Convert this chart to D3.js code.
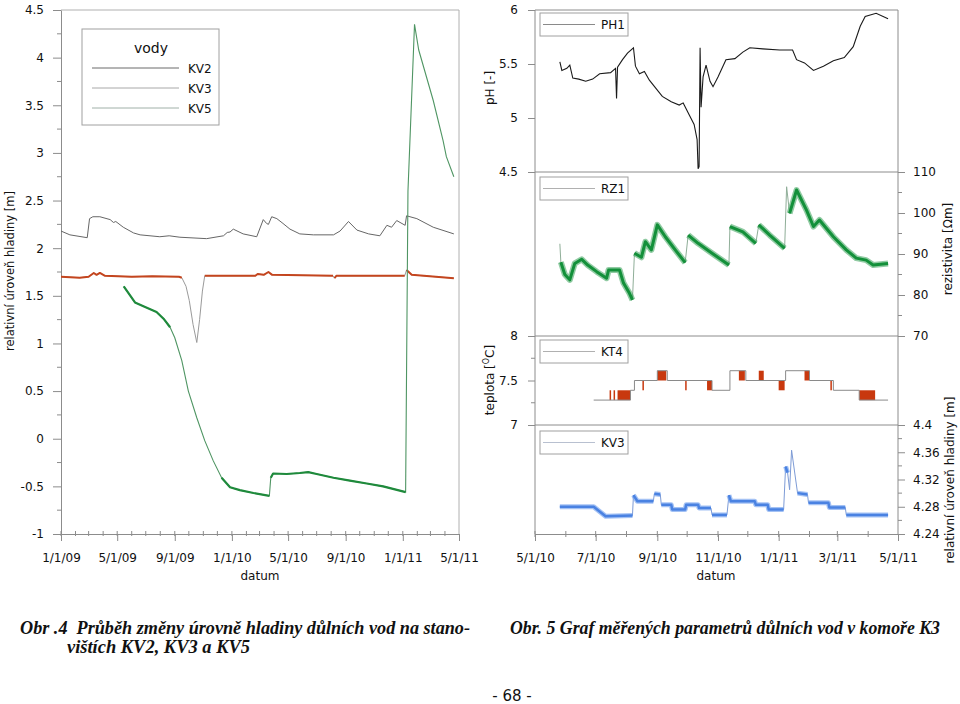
<!DOCTYPE html>
<html><head><meta charset="utf-8">
<script src="https://cdn.jsdelivr.net/npm/d3@7"></script>
<style>
body{margin:0;background:#fff;}
svg{display:block;}
text{font-family:"DejaVu Sans",Verdana,sans-serif;fill:#111;}
.cap{font-family:"Liberation Serif","Times New Roman",serif;font-weight:bold;font-style:italic;white-space:pre;}
</style></head><body>
<svg id="c" width="960" height="704"></svg>
<script>
// ---------------- DATA ----------------
// Left chart (Obr. 4)
const leftSeriesNames = ["KV2","KV3","KV5"];
const leftYTicks = [-1,-0.5,0,0.5,1,1.5,2,2.5,3,3.5,4,4.5];
const leftYLabels = ["-1","-0.5","0","0.5","1","1.5","2","2.5","3","3.5","4","4.5"];
const leftXTicks = ["2009-01-01","2009-05-01","2009-09-01","2010-01-01","2010-05-01","2010-09-01","2011-01-01","2011-05-01"];
const leftXLabels = ["1/1/09","5/1/09","9/1/09","1/1/10","5/1/10","9/1/10","1/1/11","5/1/11"];

const kv2 = [["2009-01-01",2.18],["2009-01-20",2.14],["2009-02-26",2.11],["2009-03-03",2.31],["2009-03-10",2.33],["2009-03-25",2.33],["2009-04-16",2.30],["2009-04-23",2.27],["2009-04-28",2.28],["2009-05-14",2.22],["2009-06-05",2.16],["2009-06-19",2.14],["2009-07-31",2.12],["2009-08-20",2.13],["2009-09-12",2.115],["2009-11-08",2.10],["2009-12-14",2.13],["2009-12-22",2.165],["2009-12-28",2.17],["2010-01-04",2.20],["2010-01-25",2.15],["2010-02-23",2.12],["2010-03-09",2.30],["2010-03-16",2.26],["2010-03-20",2.25],["2010-03-27",2.33],["2010-04-07",2.31],["2010-04-20",2.26],["2010-05-05",2.20],["2010-05-26",2.15],["2010-06-24",2.14],["2010-08-06",2.14],["2010-08-20",2.18],["2010-09-07",2.28],["2010-09-25",2.19],["2010-10-20",2.15],["2010-11-13",2.13],["2010-11-28",2.24],["2010-12-08",2.22],["2010-12-19",2.29],["2011-01-06",2.24],["2011-01-09",2.34],["2011-01-31",2.31],["2011-03-07",2.22],["2011-04-20",2.15]];

const kv3 = [["2009-01-01",1.70],["2009-02-10",1.69],["2009-03-01",1.70],["2009-03-12",1.74],["2009-03-18",1.72],["2009-03-25",1.74],["2009-04-05",1.71],["2009-06-01",1.70],["2009-07-15",1.705],["2009-09-10",1.70],["2009-09-16",1.69],["2009-09-25",1.60],["2009-10-02",1.45],["2009-10-10",1.20],["2009-10-18",1.01],["2009-10-24",1.25],["2009-10-30",1.55],["2009-11-04",1.71],["2010-01-01",1.71],["2010-02-20",1.71],["2010-02-25",1.73],["2010-03-10",1.72],["2010-03-20",1.75],["2010-03-28",1.72],["2010-08-05",1.71],["2010-08-08",1.685],["2010-08-12",1.71],["2011-01-05",1.71],["2011-01-09",1.77],["2011-01-20",1.72],["2011-04-20",1.685]];

const kv5 = [["2009-05-15",1.60],["2009-06-08",1.43],["2009-06-26",1.39],["2009-07-24",1.33],["2009-08-08",1.26],["2009-08-22",1.17],["2009-09-01",1.06],["2009-09-16",0.82],["2009-09-30",0.50],["2009-10-18",0.22],["2009-11-04",-0.02],["2009-11-22",-0.23],["2009-12-10",-0.41],["2009-12-28",-0.51],["2010-01-18",-0.54],["2010-02-16",-0.57],["2010-03-22",-0.60],["2010-03-25",-0.41],["2010-03-30",-0.365],["2010-04-28",-0.37],["2010-05-26",-0.36],["2010-06-13",-0.35],["2010-07-01",-0.37],["2010-08-06",-0.41],["2010-09-10",-0.44],["2010-10-16",-0.47],["2010-11-20",-0.50],["2011-01-07",-0.56],["2011-01-12",2.6],["2011-01-14",2.85],["2011-01-26",4.35],["2011-02-04",4.08],["2011-03-07",3.55],["2011-03-28",3.13],["2011-04-04",2.96],["2011-04-20",2.75]];

// Right chart (Obr. 5)
const rightXTicks = ["2010-05-01","2010-07-01","2010-09-01","2010-11-01","2011-01-01","2011-03-01","2011-05-01"];
const rightXLabels = ["5/1/10","7/1/10","9/1/10","11/1/10","1/1/11","3/1/11","5/1/11"];
const phTicks = [4.5,5,5.5,6];
const phLabels = ["4.5","5","5.5","6"];
const rzTicks = [70,80,90,100,110];
const rzLabels = ["70","80","90","100","110"];
const ktTicks = [7,7.5,8];
const ktLabels = ["7","7.5","8"];
const kvTicks = [4.24,4.28,4.32,4.36,4.4];
const kvLabels = ["4.24","4.28","4.32","4.36","4.4"];

const ph1 = [["2010-05-26",5.52],["2010-05-28",5.44],["2010-06-02",5.46],["2010-06-05",5.49],["2010-06-08",5.37],["2010-06-14",5.36],["2010-06-21",5.34],["2010-06-28",5.36],["2010-07-05",5.41],["2010-07-16",5.42],["2010-07-21",5.46],["2010-07-22",5.18],["2010-07-23",5.47],["2010-07-28",5.54],["2010-08-02",5.60],["2010-08-08",5.65],["2010-08-10",5.48],["2010-08-14",5.41],["2010-08-19",5.43],["2010-08-24",5.35],["2010-08-31",5.27],["2010-09-06",5.20],["2010-09-15",5.15],["2010-09-23",5.12],["2010-09-27",5.14],["2010-10-03",5.03],["2010-10-08",4.94],["2010-10-11",4.80],["2010-10-12",4.53],["2010-10-13",4.55],["2010-10-14",5.65],["2010-10-15",5.10],["2010-10-17",5.38],["2010-10-20",5.49],["2010-10-24",5.34],["2010-10-27",5.29],["2010-11-01",5.38],["2010-11-09",5.54],["2010-11-18",5.55],["2010-11-26",5.61],["2010-12-03",5.65],["2010-12-16",5.64],["2011-01-02",5.63],["2011-01-15",5.63],["2011-01-19",5.54],["2011-01-27",5.51],["2011-02-05",5.44],["2011-02-15",5.48],["2011-02-25",5.53],["2011-03-08",5.56],["2011-03-17",5.66],["2011-03-24",5.85],["2011-03-29",5.94],["2011-04-09",5.97],["2011-04-21",5.92]];

const rz1 = [["2010-05-26",92.5],["2010-05-27",88.0],["2010-05-31",85.0],["2010-06-05",83.7],["2010-06-10",87.7],["2010-06-17",88.7],["2010-06-23",87.3],["2010-07-02",85.7],["2010-07-12",84.1],["2010-07-14",86.1],["2010-07-25",86.1],["2010-07-29",82.9],["2010-08-04",80.4],["2010-08-07",78.8],["2010-08-09",90.2],["2010-08-16",89.2],["2010-08-20",93.0],["2010-08-26",91.0],["2010-09-01",97.1],["2010-09-09",94.2],["2010-09-19",91.0],["2010-09-29",87.9],["2010-10-02",94.6],["2010-10-12",92.6],["2010-10-26",90.2],["2010-11-12",87.3],["2010-11-13",96.7],["2010-11-26",95.4],["2010-12-09",92.6],["2010-12-12",97.1],["2010-12-23",94.6],["2011-01-07",91.4],["2011-01-09",106.4],["2011-01-12",99.9],["2011-01-19",105.6],["2011-01-29",100.7],["2011-02-05",96.7],["2011-02-11",98.3],["2011-02-25",94.2],["2011-03-10",91.0],["2011-03-20",89.0],["2011-03-30",88.5],["2011-04-06",87.3],["2011-04-21",87.7]];

const kt4 = [["2010-06-29",7.28],["2010-08-05",7.39],["2010-08-09",7.5],["2010-09-01",7.61],["2010-09-11",7.5],["2010-10-26",7.39],["2010-11-13",7.61],["2010-11-29",7.5],["2011-01-08",7.61],["2011-02-01",7.5],["2011-02-25",7.39],["2011-03-23",7.28],["2011-04-21",7.28]];
// dense toggling between two levels: [start, end, low, high]
const kt4Bands = [["2010-07-15","2010-07-16",7.28,7.39],["2010-07-19","2010-07-20",7.28,7.39],["2010-07-23","2010-08-05",7.28,7.39],["2010-08-17","2010-08-18",7.39,7.5],["2010-09-01","2010-09-10",7.5,7.61],["2010-09-29","2010-09-30",7.39,7.5],["2010-10-21","2010-10-26",7.39,7.5],["2010-11-22","2010-11-28",7.5,7.61],["2010-12-12","2010-12-17",7.5,7.61],["2011-01-01","2011-01-07",7.39,7.5],["2011-01-27","2011-02-01",7.5,7.61],["2011-02-22","2011-02-23",7.39,7.5],["2011-03-23","2011-04-08",7.28,7.39]];

const kv3r = [["2010-05-26",4.280],["2010-06-29",4.280],["2010-07-11",4.266],["2010-08-07",4.267],["2010-08-08",4.297],["2010-08-12",4.288],["2010-08-28",4.288],["2010-08-29",4.299],["2010-09-04",4.298],["2010-09-05",4.283],["2010-09-15",4.283],["2010-09-16",4.276],["2010-09-29",4.276],["2010-09-30",4.283],["2010-10-12",4.283],["2010-10-13",4.278],["2010-10-25",4.278],["2010-10-26",4.268],["2010-11-10",4.268],["2010-11-12",4.297],["2010-11-14",4.288],["2010-12-08",4.288],["2010-12-09",4.283],["2010-12-21",4.283],["2010-12-22",4.276],["2011-01-06",4.276],["2011-01-08",4.339],["2011-01-10",4.330],["2011-01-12",4.305],["2011-01-14",4.363],["2011-01-20",4.300],["2011-01-30",4.298],["2011-01-31",4.286],["2011-02-20",4.286],["2011-02-21",4.279],["2011-03-09",4.279],["2011-03-10",4.268],["2011-04-21",4.268]];

// ---------------- DRAWING ----------------
const P = d3.timeParse("%Y-%m-%d");
const svg = d3.select("#c");
const AX = "#8c8c8c";

function series(g, data, x, y, o) {
  const pts = data.map(d => [x(P(d[0])), y(d[1])]);
  const runs = []; let cur = null;
  for (let i = 1; i < pts.length; i++) {
    const dx = Math.abs(pts[i][0] - pts[i-1][0]), dy = Math.abs(pts[i][1] - pts[i-1][1]);
    if (dy <= o.maxSlope * Math.max(dx, 0.5)) {
      if (!cur) { cur = [pts[i-1]]; runs.push(cur); }
      cur.push(pts[i]);
    } else cur = null;
  }
  g.append("path").attr("d", d3.line()(pts)).attr("fill","none")
    .attr("stroke", o.thin).attr("stroke-width", o.thinW || 1);
  if (o.halo) runs.forEach(r => g.append("path").attr("d", d3.line()(r)).attr("fill","none")
    .attr("stroke", o.halo).attr("stroke-width", o.haloW).attr("stroke-opacity", o.haloOp || 1)
    .attr("stroke-linejoin","round"));
  if (o.color) runs.forEach(r => g.append("path").attr("d", d3.line()(r)).attr("fill","none")
    .attr("stroke", o.color).attr("stroke-width", o.width).attr("stroke-linejoin","round"));
}
function styleAxis(sel) {
  sel.selectAll(".domain").attr("stroke", AX);
  sel.selectAll(".tick line").attr("stroke", AX);
  sel.selectAll("text").attr("font-size", 12).attr("fill", "#111")
     .attr("font-family","DejaVu Sans, Verdana, sans-serif");
}
function minorY(g, scale, vals, x0, len) {
  vals.forEach(v => g.append("line").attr("x1", x0).attr("x2", x0 + len)
    .attr("y1", scale(v)).attr("y2", scale(v)).attr("stroke", AX));
}

// ===== Left chart =====
const xL = d3.scaleTime().domain([P("2009-01-01"), P("2011-05-01")]).range([61, 459]);
const yL = d3.scaleLinear().domain([-1, 4.5]).range([534, 10]);
const gL = svg.append("g");
gL.append("line").attr("x1",61).attr("x2",459).attr("y1",10).attr("y2",10).attr("stroke","#b0b0b0");
gL.append("line").attr("x1",459).attr("x2",459).attr("y1",10).attr("y2",534).attr("stroke","#b0b0b0");
const axLy = gL.append("g").attr("transform","translate(61,0)")
  .call(d3.axisLeft(yL).tickValues(leftYTicks).tickFormat((d,i)=>leftYLabels[i]).tickSize(8).tickPadding(9).tickSizeOuter(0));
styleAxis(axLy);
minorY(gL, yL, d3.range(-0.75, 4.5, 0.5), 57, 4);
const axLx = gL.append("g").attr("transform","translate(0,534)")
  .call(d3.axisBottom(xL).tickValues(leftXTicks.map(P)).tickFormat((d,i)=>leftXLabels[i]).tickSize(7).tickPadding(12).tickSizeOuter(0));
styleAxis(axLx);
d3.timeMonth.range(P("2009-01-01"), P("2011-05-01")).forEach(d => {
  gL.append("line").attr("x1", xL(d)).attr("x2", xL(d)).attr("y1", 531).attr("y2", 536).attr("stroke", AX);
});
gL.append("text").attr("x",260).attr("y",580).attr("text-anchor","middle").attr("font-size",12).text("datum");
gL.append("text").attr("transform","translate(14,271) rotate(-90)").attr("text-anchor","middle").attr("font-size",11.5).text("relativní úroveň hladiny [m]");

series(gL, kv2, xL, yL, {thin:"#666", thinW:1});
series(gL, kv3, xL, yL, {thin:"#9a9a9a", thinW:1, color:"#c4451e", width:2, maxSlope:1.5});
series(gL, kv5, xL, yL, {thin:"#4f9563", thinW:1.1, color:"#1f8a3c", width:2.2, maxSlope:2});

// legend
gL.append("rect").attr("x",82).attr("y",29).attr("width",137).attr("height",96).attr("fill","#fff").attr("stroke","#a0a0a0");
gL.append("text").attr("x",151).attr("y",53).attr("text-anchor","middle").attr("font-size",14).text("vody");
const legCols = ["#6a6a6a","#a8a8a8","#a0b0a8"];
leftSeriesNames.forEach((n,i) => {
  const yy = 68 + i*20;
  gL.append("line").attr("x1",92).attr("x2",179).attr("y1",yy).attr("y2",yy).attr("stroke",legCols[i]);
  gL.append("text").attr("x",188).attr("y",yy+4.5).attr("font-size",12).text(n);
});

// ===== Right chart =====
const xR = d3.scaleTime().domain([P("2010-05-01"), P("2011-05-01")]).range([535, 898]);
const yPH = d3.scaleLinear().domain([4.5, 6]).range([172, 10]);
const yRZ = d3.scaleLinear().domain([70, 110]).range([336, 172]);
const yKT = d3.scaleLinear().domain([7, 8]).range([425, 336]);
const yKV = d3.scaleLinear().domain([4.24, 4.4]).range([534, 425]);
const gR = svg.append("g");
[10,172,336,425].forEach(yy => gR.append("line").attr("x1",535).attr("x2",898).attr("y1",yy).attr("y2",yy).attr("stroke",AX));
gR.append("line").attr("x1",535).attr("x2",535).attr("y1",10).attr("y2",534).attr("stroke",AX);
gR.append("line").attr("x1",898).attr("x2",898).attr("y1",10).attr("y2",534).attr("stroke",AX);

function leftAx(scale, vals, labs) {
  const a = gR.append("g").attr("transform","translate(535,0)")
    .call(d3.axisLeft(scale).tickValues(vals).tickFormat((d,i)=>labs[i]).tickSize(7).tickPadding(10).tickSizeOuter(0));
  a.select(".domain").remove(); styleAxis(a);
}
function rightAx(scale, vals, labs) {
  const a = gR.append("g").attr("transform","translate(898,0)")
    .call(d3.axisRight(scale).tickValues(vals).tickFormat((d,i)=>labs[i]).tickSize(7).tickPadding(8).tickSizeOuter(0));
  a.select(".domain").remove(); styleAxis(a);
}
leftAx(yPH, phTicks, phLabels);
rightAx(yRZ, rzTicks, rzLabels);
minorY(gR, yRZ, [75,85,95,105], 898, 4);
leftAx(yKT, ktTicks, ktLabels);
minorY(gR, yKT, [7.25,7.75], 531, 4);
rightAx(yKV, kvTicks, kvLabels);
minorY(gR, yKV, [4.26,4.30,4.34,4.38], 898, 4);

const axRx = gR.append("g").attr("transform","translate(0,534)")
  .call(d3.axisBottom(xR).tickValues(rightXTicks.map(P)).tickFormat((d,i)=>rightXLabels[i]).tickSize(7).tickPadding(12).tickSizeOuter(0));
styleAxis(axRx);
d3.timeMonth.range(P("2010-05-01"), P("2011-05-01")).forEach(d => {
  gR.append("line").attr("x1", xR(d)).attr("x2", xR(d)).attr("y1", 531).attr("y2", 537).attr("stroke", AX);
});
gR.append("text").attr("x",716).attr("y",580).attr("text-anchor","middle").attr("font-size",12).text("datum");
gR.append("text").attr("transform","translate(494,88) rotate(-90)").attr("text-anchor","middle").attr("font-size",12).text("pH [-]");
const tt = gR.append("text").attr("transform","translate(494,380) rotate(-90)").attr("text-anchor","middle").attr("font-size",12);
tt.append("tspan").text("teplota [");
tt.append("tspan").attr("font-size",8).attr("dy",-5).text("O");
tt.append("tspan").attr("dy",5).text("C]");
gR.append("text").attr("transform","translate(952,249) rotate(-90)").attr("text-anchor","middle").attr("font-size",12).text("rezistivita [Ωm]");
gR.append("text").attr("transform","translate(954,480) rotate(-90)").attr("text-anchor","middle").attr("font-size",12).text("relativní úroveň hladiny [m]");

series(gR, ph1, xR, yPH, {thin:"#1a1a1a", thinW:1.1});
series(gR, rz1, xR, yRZ, {thin:"#8fae98", thinW:1, halo:"#37a157", haloW:6, haloOp:0.55, color:"#13903a", width:3, maxSlope:6});
kt4Bands.forEach(b => {
  gR.append("rect").attr("x", xR(P(b[0]))).attr("width", Math.max(1.5, xR(P(b[1])) - xR(P(b[0]))))
    .attr("y", yKT(b[3])).attr("height", yKT(b[2]) - yKT(b[3])).attr("fill", "#c8380e");
});
gR.append("path").attr("d", d3.line().curve(d3.curveStepAfter).x(d=>xR(P(d[0]))).y(d=>yKT(d[1]))(kt4))
  .attr("fill","none").attr("stroke","#8a8a8a").attr("stroke-width",1);
series(gR, kv3r, xR, yKV, {thin:"#7d9bd6", thinW:1, halo:"#7ea8ef", haloW:5, haloOp:0.7, color:"#4a82e2", width:2.5, maxSlope:6});

// panel legends
const panelLegends = [["PH1", 13, "#8a8a8a"], ["RZ1", 177, "#b0b0b0"], ["KT4", 340, "#b0b0b0"], ["KV3", 431, "#b8c0d0"]];
panelLegends.forEach(([n, y0, c]) => {
  gR.append("rect").attr("x",540).attr("y",y0).attr("width",88).attr("height",23).attr("fill","#fff").attr("stroke","#a0a0a0");
  gR.append("line").attr("x1",543).attr("x2",595).attr("y1",y0+11.5).attr("y2",y0+11.5).attr("stroke",c);
  gR.append("text").attr("x",601).attr("y",y0+16).attr("font-size",12).text(n);
});

// ===== Captions =====
function caption(x, y, len, s) {
  svg.append("text").attr("class","cap").attr("transform",`translate(${x},${y}) scale(1,1.12)`)
    .attr("font-size",17).attr("textLength",len).attr("lengthAdjust","spacingAndGlyphs").text(s);
}
caption(20, 634, 450, "Obr .4  Průběh změny úrovně hladiny důlních vod na stano-");
caption(67, 653, 183, "vištích KV2, KV3 a KV5");
caption(510, 634, 430, "Obr. 5 Graf měřených parametrů důlních vod v komoře K3");
svg.append("text").attr("x",512).attr("y",701).attr("text-anchor","middle").attr("font-size",15)
  .attr("font-family","Liberation Serif, Times New Roman, serif").text("- 68 -");
</script>
</body></html>
